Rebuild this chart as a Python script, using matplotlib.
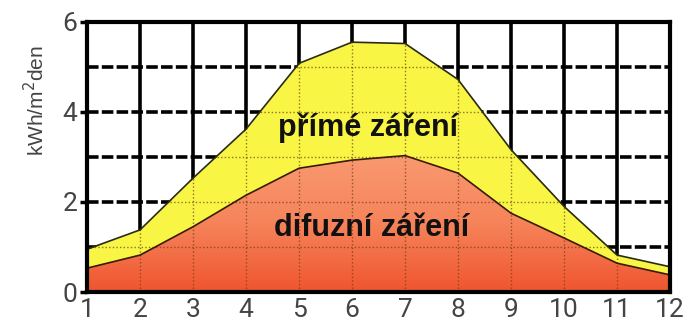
import numpy as np
import matplotlib
matplotlib.use("Agg")
import matplotlib.pyplot as plt
from matplotlib.colors import LinearSegmentedColormap

months = [1, 2, 3, 4, 5, 6, 7, 8, 9, 10, 11, 12]
diffuse = [0.53, 0.82, 1.45, 2.15, 2.75, 2.93, 3.03, 2.64, 1.75, 1.2, 0.64, 0.38]
total = [0.95, 1.38, 2.53, 3.62, 5.08, 5.55, 5.52, 4.72, 3.16, 1.9, 0.82, 0.56]
yticks = [0, 2, 4, 6]
ylabel = "kWh/m$^2$den"
label_direct = "přímé záření"
label_diffuse = "difuzní záření"

fig = plt.figure(figsize=(6.88, 3.27), dpi=100)
ax = fig.add_axes([0.1265, 0.107, 0.8475, 0.826])
ax.set_xlim(1, 12)
ax.set_ylim(0, 6)

# background grid
for m in months[1:-1]:
    ax.axvline(m, color="black", lw=2.6, zorder=1)
for h in [1, 2, 3, 4, 5]:
    ax.axhline(h, color="black", lw=2.6, ls=(0, (3.2, 0.9)), zorder=1)

# direct radiation band (yellow)
ax.fill_between(months, diffuse, total, color="#f8f545", lw=0, zorder=2)

# diffuse radiation with vertical gradient
diff_poly = ax.fill_between(months, 0, diffuse, color="none", lw=0, zorder=2)
cmap = LinearSegmentedColormap.from_list("dif", ["#ef5530", "#f6845a", "#f99a72"])
grad = np.linspace(0, 1, 256).reshape(-1, 1)
im = ax.imshow(grad, extent=[1, 12, 0, 3.1], origin="lower", cmap=cmap,
               aspect="auto", zorder=2.5, interpolation="bicubic")
im.set_clip_path(diff_poly.get_paths()[0], transform=ax.transData)

# dotted grid visible through the filled areas
area = ax.fill_between(months, 0, total, color="none", lw=0, zorder=0)
clip = area.get_paths()[0]
for m in months[1:-1]:
    ln = ax.axvline(m, color="#6b3a10", lw=1.0, ls=(0, (1, 1.6)), alpha=0.7, zorder=3)
    ln.set_clip_path(clip, transform=ax.transData)
for h in [1, 2, 3, 4, 5]:
    ln = ax.axhline(h, color="#6b3a10", lw=1.0, ls=(0, (1, 1.6)), alpha=0.7, zorder=3)
    ln.set_clip_path(clip, transform=ax.transData)

# outlines of the two series
ax.plot(months, total, color="#2b2b10", lw=1.2, zorder=4)
ax.plot(months, diffuse, color="#3a1a08", lw=1.2, zorder=4)

ax.text(6.3, 3.64, label_direct, ha="center", va="center", fontsize=22,
        fontweight="bold", family="Liberation Sans", color="#111111", zorder=5)
ax.text(6.36, 1.42, label_diffuse, ha="center", va="center", fontsize=22,
        fontweight="bold", family="Liberation Sans", color="#111111", zorder=5)

for s in ax.spines.values():
    s.set_linewidth(3)
    s.set_color("black")
    s.set_zorder(6)

ax.set_xticks(months)
ax.set_xticklabels([str(m) for m in months])
ax.set_yticks(yticks)
ax.tick_params(axis="x", length=0, pad=4, labelsize=19, labelcolor="#444444")
ax.tick_params(axis="y", length=5, width=2.5, pad=2, labelsize=19, labelcolor="#444444")
for lbl in ax.get_xticklabels() + ax.get_yticklabels():
    lbl.set_family("Roboto")
ax.set_ylabel(ylabel, fontsize=15, color="#444444", labelpad=8,
              family="Liberation Sans")
ax.yaxis.set_label_coords(-0.066, 0.71)

fig.savefig("out.png", dpi=100)
